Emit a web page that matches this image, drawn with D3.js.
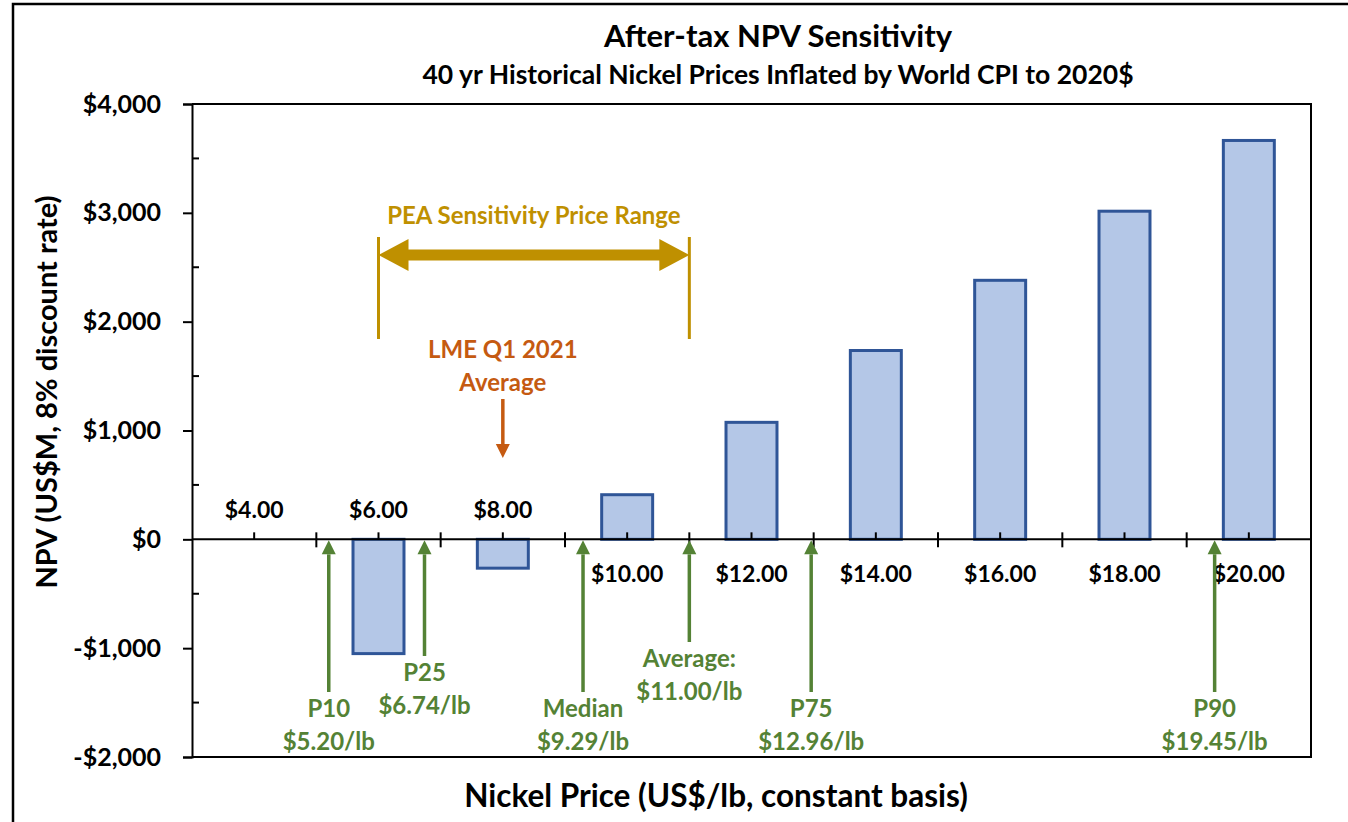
<!DOCTYPE html>
<html lang="en">
<head>
<meta charset="utf-8">
<title>After-tax NPV Sensitivity</title>
<script src="https://cdn.jsdelivr.net/npm/d3@7"></script>
<style>
    body { margin : 0; background : #fff; }
    svg text { font-family : Lato, "Open Sans", sans-serif; font-weight : 700; }
</style>
</head>
<body>
<div id="chart"></div>
<script>

// chart values
var categories = [ "$4.00" , "$6.00" , "$8.00" , "$10.00" , "$12.00" , "$14.00" , "$16.00" , "$18.00" , "$20.00" ];
var npv = [ null , -1050 , -265 , 410 , 1075 , 1735 , 2380 , 3015 , 3665 ];
var yTicks = [ -2000 , -1000 , 0 , 1000 , 2000 , 3000 , 4000 ];

// historical price statistics (US$/lb)
var statNames = [ "P10" , "P25" , "Median" , "Average:" , "P75" , "P90" ];
var statPrices = [ 5.20 , 6.74 , 9.29 , 11.00 , 12.96 , 19.45 ];

var peaRange = [ 6 , 11 ];
var lmePrice = 8.0;

var W = 1348 , H = 822;
var pLeft = 192 , pRight = 1311 , pTop = 104 , pBottom = 757;

var green = "#548235" , gold = "#bf9000" , orange = "#c55a11";

var svg = d3.select( "#chart" ).append( "svg" )
    .attr( "width" , W )
    .attr( "height" , H );

// outer frame
svg.append( "rect" )
    .attr( "x" , 13 ).attr( "y" , 4 )
    .attr( "width" , W ).attr( "height" , H )
    .attr( "fill" , "none" ).attr( "stroke" , "#000" ).attr( "stroke-width" , 2.5 );

var x = d3.scaleBand().domain( categories ).range( [ pLeft , pRight ] ).padding( 0 );
// price axis on the same pixels: $3 .. $21
var xp = d3.scaleLinear().domain( [ 3 , 21 ] ).range( [ pLeft , pRight ] );
var y = d3.scaleLinear().domain( [ -2000 , 4000 ] ).range( [ pBottom , pTop ] );

// plot box
svg.append( "path" )
    .attr( "d" , "M" + pLeft + "," + pTop + "H" + pRight + "V" + pBottom + "H" + pLeft )
    .attr( "fill" , "none" ).attr( "stroke" , "#000" ).attr( "stroke-width" , 2 );

// bars
var barW = x.bandwidth() * 0.41;
svg.selectAll( ".bar" )
    .data( categories.map( function( c , i ) { return { cat : c , v : npv[i] }; } ).filter( function( d ) { return d.v !== null; } ) )
    .enter().append( "rect" )
        .attr( "class" , "bar" )
        .attr( "x" , function( d ) { return x( d.cat ) + ( x.bandwidth() - barW ) / 2; } )
        .attr( "width" , barW )
        .attr( "y" , function( d ) { return y( Math.max( 0 , d.v ) ); } )
        .attr( "height" , function( d ) { return Math.abs( y( d.v ) - y( 0 ) ); } )
        .attr( "fill" , "#b4c7e7" )
        .attr( "stroke" , "#2f5597" )
        .attr( "stroke-width" , 3 );

// y axis
var fmt = function( v ) { return ( v < 0 ? "-$" : "$" ) + d3.format( "," )( Math.abs( v ) ); };
var yAxis = svg.append( "g" )
    .attr( "transform" , "translate(" + pLeft + ",0)" )
    .call( d3.axisLeft( y ).tickValues( yTicks ).tickFormat( fmt ).tickSize( 9 ).tickPadding( 22 ) );
yAxis.select( ".domain" ).attr( "stroke-width" , 2 );
yAxis.selectAll( ".tick line" ).attr( "stroke-width" , 2 );
yAxis.selectAll( "text" ).attr( "font-size" , 25 ).attr( "fill" , "#000" ).attr( "font-family" , null );

// minor y ticks inside
var minorY = yTicks.slice( 0 , -1 ).map( function( v ) { return v + 500; } );
svg.selectAll( ".ymin" ).data( minorY ).enter().append( "line" )
    .attr( "x1" , pLeft ).attr( "x2" , pLeft + 7 )
    .attr( "y1" , function( d ) { return y( d ); } ).attr( "y2" , function( d ) { return y( d ); } )
    .attr( "stroke" , "#000" ).attr( "stroke-width" , 2 );

// x axis at zero
var y0 = y( 0 );
svg.append( "line" )
    .attr( "x1" , pLeft ).attr( "x2" , pRight )
    .attr( "y1" , y0 ).attr( "y2" , y0 )
    .attr( "stroke" , "#000" ).attr( "stroke-width" , 2 );

var bounds = categories.slice( 1 ).map( function( c ) { return x( c ); } );
svg.selectAll( ".xmaj" ).data( bounds ).enter().append( "line" )
    .attr( "x1" , function( d ) { return d; } ).attr( "x2" , function( d ) { return d; } )
    .attr( "y1" , y0 - 7 ).attr( "y2" , y0 + 8 )
    .attr( "stroke" , "#000" ).attr( "stroke-width" , 2 );

svg.selectAll( ".xmin" ).data( categories ).enter().append( "line" )
    .attr( "x1" , function( d ) { return x( d ) + x.bandwidth() / 2; } )
    .attr( "x2" , function( d ) { return x( d ) + x.bandwidth() / 2; } )
    .attr( "y1" , y0 - 7 ).attr( "y2" , y0 )
    .attr( "stroke" , "#000" ).attr( "stroke-width" , 2 );

// category labels: low prices sit above the axis, the rest below
svg.selectAll( ".xlab" ).data( categories ).enter().append( "text" )
    .attr( "x" , function( d ) { return x( d ) + x.bandwidth() / 2; } )
    .attr( "y" , function( d , i ) { return i < 3 ? y0 - 21 : y0 + 43; } )
    .attr( "text-anchor" , "middle" )
    .attr( "font-size" , 23 )
    .text( function( d ) { return d; } );

// vertical arrow, tip at yb
function arrow( g , x0 , ya , yb , col , head )
{
    var dir = yb < ya ? 1 : -1;
    g.append( "line" )
        .attr( "x1" , x0 ).attr( "x2" , x0 )
        .attr( "y1" , ya ).attr( "y2" , yb + dir * head )
        .attr( "stroke" , col ).attr( "stroke-width" , 3.5 );
    g.append( "path" )
        .attr( "d" , "M" + x0 + "," + yb + "L" + ( x0 - 7 ) + "," + ( yb + dir * head ) + "L" + ( x0 + 7 ) + "," + ( yb + dir * head ) + "Z" )
        .attr( "fill" , col );
}

// statistics arrows
var statLayout = { "P25" : -36 , "Average:" : -50 };
var ann = svg.append( "g" );
statNames.forEach( function( name , i )
{
    var px = xp( statPrices[i] );
    var shift = statLayout[name] || 0;
    var t1 = 717 + shift;
    arrow( ann , px , t1 - 25 , y0 + 1 , green , 14 );
    ann.append( "text" )
        .attr( "x" , px ).attr( "y" , t1 )
        .attr( "text-anchor" , "middle" ).attr( "font-size" , 24 ).attr( "fill" , green )
        .text( name );
    ann.append( "text" )
        .attr( "x" , px ).attr( "y" , t1 + 33 )
        .attr( "text-anchor" , "middle" ).attr( "font-size" , 24 ).attr( "fill" , green )
        .text( "$" + statPrices[i].toFixed( 2 ) + "/lb" );
} );

// PEA sensitivity range
var pa = xp( peaRange[0] ) , pb = xp( peaRange[1] ) , py = 255;
[ pa , pb ].forEach( function( px )
{
    svg.append( "line" )
        .attr( "x1" , px ).attr( "x2" , px ).attr( "y1" , 237 ).attr( "y2" , 339 )
        .attr( "stroke" , gold ).attr( "stroke-width" , 3 );
} );
var hl = 30 , hh = 16 , sw = 5.5;
svg.append( "path" )
    .attr( "d" , "M" + pa + "," + py +
        "L" + ( pa + hl ) + "," + ( py - hh ) + "V" + ( py - sw ) +
        "H" + ( pb - hl ) + "V" + ( py - hh ) + "L" + pb + "," + py +
        "L" + ( pb - hl ) + "," + ( py + hh ) + "V" + ( py + sw ) +
        "H" + ( pa + hl ) + "V" + ( py + hh ) + "Z" )
    .attr( "fill" , gold );
svg.append( "text" )
    .attr( "x" , ( pa + pb ) / 2 ).attr( "y" , 224 )
    .attr( "text-anchor" , "middle" ).attr( "font-size" , 24 ).attr( "fill" , gold )
    .text( "PEA Sensitivity Price Range" );

// LME Q1 2021 average
var lx = xp( lmePrice );
svg.append( "text" )
    .attr( "x" , lx ).attr( "y" , 358 )
    .attr( "text-anchor" , "middle" ).attr( "font-size" , 24 ).attr( "fill" , orange )
    .text( "LME Q1 2021" );
svg.append( "text" )
    .attr( "x" , lx ).attr( "y" , 391 )
    .attr( "text-anchor" , "middle" ).attr( "font-size" , 24 ).attr( "fill" , orange )
    .text( "Average" );
arrow( svg , lx , 399 , 458 , orange , 14 );

// titles
svg.append( "text" )
    .attr( "x" , 778 ).attr( "y" , 47 )
    .attr( "text-anchor" , "middle" ).attr( "font-size" , 31 )
    .text( "After-tax NPV Sensitivity" );
svg.append( "text" )
    .attr( "x" , 778 ).attr( "y" , 84 )
    .attr( "text-anchor" , "middle" ).attr( "font-size" , 26.5 )
    .text( "40 yr Historical Nickel Prices Inflated by World CPI to 2020$" );
svg.append( "text" )
    .attr( "x" , 716 ).attr( "y" , 807 )
    .attr( "text-anchor" , "middle" ).attr( "font-size" , 31.5 )
    .text( "Nickel Price (US$/lb, constant basis)" );
svg.append( "text" )
    .attr( "transform" , "translate(57,392) rotate(-90)" )
    .attr( "text-anchor" , "middle" ).attr( "font-size" , 29 )
    .text( "NPV (US$M, 8% discount rate)" );

</script>
</body>
</html>
